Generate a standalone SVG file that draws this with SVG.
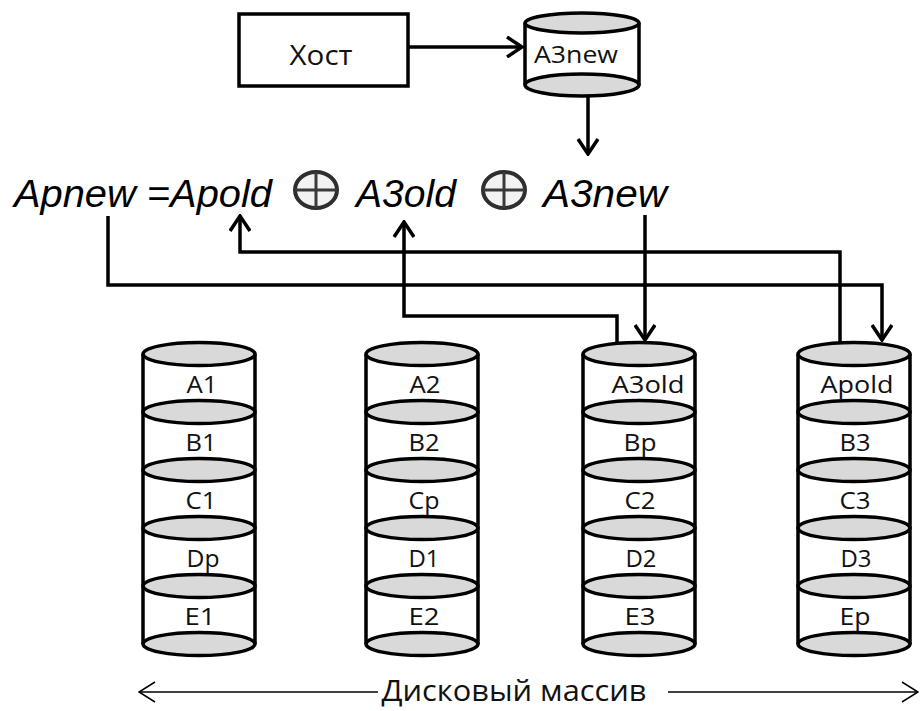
<svg xmlns="http://www.w3.org/2000/svg" width="920" height="711" viewBox="0 0 920 711">
<defs>
<style>
.ln{fill:none;stroke:#000;stroke-width:3.5;stroke-linejoin:miter}
.thin{fill:none;stroke:#000;stroke-width:1.5}
.side{fill:none;stroke:#000;stroke-width:3.5}
.ell{fill:#d9d9d9;stroke:#000;stroke-width:3.5}
.lbl{font-family:"Open Sans","DejaVu Sans",sans-serif;font-size:24px;fill:#111;text-anchor:middle}
.f{font-family:"Liberation Sans",Arial,sans-serif;font-style:italic;font-size:38px;fill:#000}
.xor{fill:#f2f2f2;stroke:#2e2e2e;stroke-width:4}
.xl{stroke:#3a3a3a;stroke-width:3}
</style>
<marker id="ah" viewBox="0 0 18 22" refX="16" refY="11" markerWidth="18" markerHeight="22" markerUnits="userSpaceOnUse" orient="auto">
<path d="M1,1 L16,11 L1,21" fill="none" stroke="#000" stroke-width="3.5"/>
</marker>
<marker id="ahs" viewBox="0 0 18 24" refX="17" refY="12" markerWidth="18" markerHeight="24" markerUnits="userSpaceOnUse" orient="auto">
<path d="M1,2 L17,12 L1,22" fill="none" stroke="#000" stroke-width="1.5"/>
</marker>
</defs>
<rect width="920" height="711" fill="#fff"/>

<g id="host">
<rect x="239" y="14" width="169" height="72" fill="#fff" stroke="#000" stroke-width="3.5"/>
<text x="321" y="65" class="lbl" style="font-size:27px" textLength="63" lengthAdjust="spacingAndGlyphs">Хост</text>
</g>

<g id="a3new-disk">
<path class="side" d="M525,23 V85 M639,23 V85"/>
<ellipse class="ell" cx="582" cy="85" rx="57" ry="11"/>
<ellipse class="ell" cx="582" cy="23" rx="57" ry="10"/>
<text x="576" y="63" class="lbl" textLength="84" lengthAdjust="spacingAndGlyphs">A3new</text>
</g>

<g id="formula">
<text x="14" y="207" class="f" textLength="258" lengthAdjust="spacingAndGlyphs">Apnew =Apold</text>
<ellipse class="xor" cx="316" cy="190" rx="21" ry="18"/>
<line class="xl" x1="295" y1="190" x2="337" y2="190"/>
<line class="xl" x1="316" y1="172" x2="316" y2="208"/>
<text x="356" y="207" class="f" textLength="100" lengthAdjust="spacingAndGlyphs">A3old</text>
<ellipse class="xor" cx="504" cy="190" rx="21" ry="18"/>
<line class="xl" x1="483" y1="190" x2="525" y2="190"/>
<line class="xl" x1="504" y1="172" x2="504" y2="208"/>
<text x="543" y="207" class="f" textLength="124" lengthAdjust="spacingAndGlyphs">A3new</text>
</g>

<g id="disk1">
<path class="side" d="M143,354 V644 M255,354 V644"/>
<ellipse class="ell" cx="199" cy="644" rx="56" ry="11.5"/>
<ellipse class="ell" cx="199" cy="586" rx="56" ry="11.5"/>
<ellipse class="ell" cx="199" cy="528" rx="56" ry="11.5"/>
<ellipse class="ell" cx="199" cy="470" rx="56" ry="11.5"/>
<ellipse class="ell" cx="199" cy="412" rx="56" ry="11.5"/>
<ellipse class="ell" cx="199" cy="354" rx="56" ry="11.5"/>
<text x="202" y="393" class="lbl" textLength="31" lengthAdjust="spacingAndGlyphs">A1</text>
<text x="201" y="451" class="lbl" textLength="31" lengthAdjust="spacingAndGlyphs">B1</text>
<text x="201" y="509" class="lbl" textLength="31" lengthAdjust="spacingAndGlyphs">C1</text>
<text x="203" y="567" class="lbl" textLength="33" lengthAdjust="spacingAndGlyphs">Dp</text>
<text x="200" y="625" class="lbl" textLength="31" lengthAdjust="spacingAndGlyphs">E1</text>
</g>

<g id="disk2">
<path class="side" d="M366,354 V644 M478,354 V644"/>
<ellipse class="ell" cx="422" cy="644" rx="56" ry="11.5"/>
<ellipse class="ell" cx="422" cy="586" rx="56" ry="11.5"/>
<ellipse class="ell" cx="422" cy="528" rx="56" ry="11.5"/>
<ellipse class="ell" cx="422" cy="470" rx="56" ry="11.5"/>
<ellipse class="ell" cx="422" cy="412" rx="56" ry="11.5"/>
<ellipse class="ell" cx="422" cy="354" rx="56" ry="11.5"/>
<text x="425" y="393" class="lbl" textLength="31" lengthAdjust="spacingAndGlyphs">A2</text>
<text x="424" y="451" class="lbl" textLength="31" lengthAdjust="spacingAndGlyphs">B2</text>
<text x="424" y="509" class="lbl" textLength="31" lengthAdjust="spacingAndGlyphs">Cp</text>
<text x="424" y="567" class="lbl" textLength="31" lengthAdjust="spacingAndGlyphs">D1</text>
<text x="424" y="625" class="lbl" textLength="31" lengthAdjust="spacingAndGlyphs">E2</text>
</g>

<g id="disk3">
<path class="side" d="M583,354 V644 M695,354 V644"/>
<ellipse class="ell" cx="639" cy="644" rx="56" ry="11.5"/>
<ellipse class="ell" cx="639" cy="586" rx="56" ry="11.5"/>
<ellipse class="ell" cx="639" cy="528" rx="56" ry="11.5"/>
<ellipse class="ell" cx="639" cy="470" rx="56" ry="11.5"/>
<ellipse class="ell" cx="639" cy="412" rx="56" ry="11.5"/>
<ellipse class="ell" cx="639" cy="354" rx="56" ry="11.5"/>
<text x="648" y="393" class="lbl" textLength="73" lengthAdjust="spacingAndGlyphs">A3old</text>
<text x="640" y="451" class="lbl" textLength="33" lengthAdjust="spacingAndGlyphs">Bp</text>
<text x="640" y="509" class="lbl" textLength="31" lengthAdjust="spacingAndGlyphs">C2</text>
<text x="641" y="567" class="lbl" textLength="31" lengthAdjust="spacingAndGlyphs">D2</text>
<text x="640" y="625" class="lbl" textLength="31" lengthAdjust="spacingAndGlyphs">E3</text>
</g>

<g id="disk4">
<path class="side" d="M798,354 V644 M910,354 V644"/>
<ellipse class="ell" cx="854" cy="644" rx="56" ry="11.5"/>
<ellipse class="ell" cx="854" cy="586" rx="56" ry="11.5"/>
<ellipse class="ell" cx="854" cy="528" rx="56" ry="11.5"/>
<ellipse class="ell" cx="854" cy="470" rx="56" ry="11.5"/>
<ellipse class="ell" cx="854" cy="412" rx="56" ry="11.5"/>
<ellipse class="ell" cx="854" cy="354" rx="56" ry="11.5"/>
<text x="857" y="393" class="lbl" textLength="73" lengthAdjust="spacingAndGlyphs">Apold</text>
<text x="855" y="451" class="lbl" textLength="31" lengthAdjust="spacingAndGlyphs">B3</text>
<text x="855" y="509" class="lbl" textLength="31" lengthAdjust="spacingAndGlyphs">C3</text>
<text x="856" y="567" class="lbl" textLength="31" lengthAdjust="spacingAndGlyphs">D3</text>
<text x="855" y="625" class="lbl" textLength="31" lengthAdjust="spacingAndGlyphs">Ep</text>
</g>

<g id="array-label">
<text x="514" y="701" class="lbl" style="font-size:29px" textLength="265" lengthAdjust="spacingAndGlyphs">Дисковый массив</text>
</g>

<g id="connectors">
<path class="ln" d="M408,47 H522" marker-end="url(#ah)"/>
<path class="ln" d="M588,97 V154" marker-end="url(#ah)"/>
<path class="ln" d="M108,216 V285 H882 V340" marker-end="url(#ah)"/>
<path class="ln" d="M840,343 V252 H240 V216" marker-end="url(#ah)"/>
<path class="ln" d="M617,343 V316 H404 V222" marker-end="url(#ah)"/>
<path class="ln" d="M645,215 V340" marker-end="url(#ah)"/>
<path class="thin" d="M378,692 H139" marker-end="url(#ahs)"/>
<path class="thin" d="M668,692 H918" marker-end="url(#ahs)"/>
</g>
</svg>
